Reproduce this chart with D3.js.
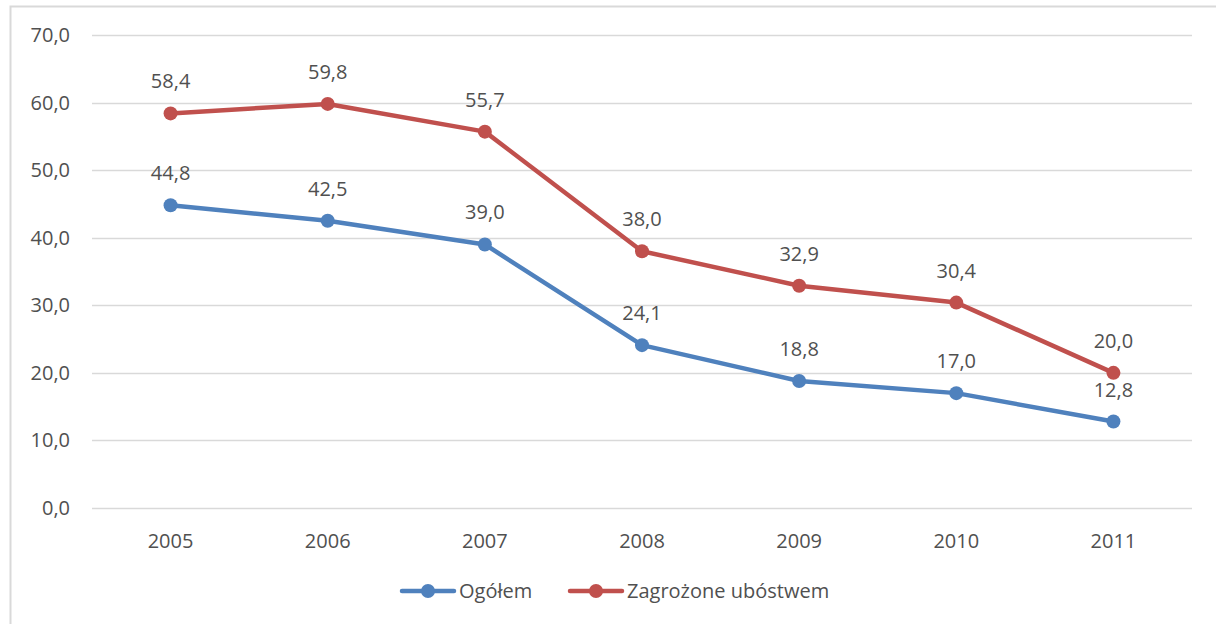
<!DOCTYPE html>
<html>
<head>
<meta charset="utf-8">
<script src="https://cdn.jsdelivr.net/npm/d3@7"></script>
<style>
  body { margin: 0; background: #fff; }
  text { font-family: "Open Sans", sans-serif; fill: #505050; }
</style>
</head>
<body>
<div id="chart"></div>
<script>
var width = 1216,
    height = 624;

var years = ['2005', '2006', '2007', '2008', '2009', '2010', '2011'];
var ogolem = [44.8, 42.5, 39.0, 24.1, 18.8, 17.0, 12.8];
var zagrozone = [58.4, 59.8, 55.7, 38.0, 32.9, 30.4, 20.0];
var yTicks = [0, 10, 20, 30, 40, 50, 60, 70];
var seriesNames = ['Ogółem', 'Zagrożone ubóstwem'];
var colours = ['#4f81bd', '#c0504d'];

var fmt = function(v) { return v.toFixed(1).replace('.', ','); };

var svg = d3.select('#chart').append('svg')
    .attr('width', width)
    .attr('height', height);

// chart area border
svg.append('rect')
    .attr('x', 10.5).attr('y', 6.5)
    .attr('width', 1230).attr('height', 640)
    .attr('fill', 'none')
    .attr('stroke', '#d9d9d9')
    .attr('stroke-width', 2);

var x = d3.scaleBand()
    .domain(years)
    .range([92, 1192]);

var y = d3.scaleLinear()
    .domain([0, 70])
    .range([508, 35]);

// grid
svg.append('g').selectAll('line')
  .data(yTicks)
  .enter().append('line')
    .attr('x1', 92).attr('x2', 1192)
    .attr('y1', function(d) { return Math.round(y(d)) + 0.5; })
    .attr('y2', function(d) { return Math.round(y(d)) + 0.5; })
    .attr('stroke', '#d9d9d9')
    .attr('stroke-width', 1.5);

// y labels
svg.append('g').selectAll('text')
  .data(yTicks)
  .enter().append('text')
    .attr('x', 70)
    .attr('y', function(d) { return y(d); })
    .attr('dy', '0.35em')
    .attr('text-anchor', 'end')
    .style('font-size', '20px')
    .text(fmt);

// x labels
svg.append('g').selectAll('text')
  .data(years)
  .enter().append('text')
    .attr('x', function(d) { return x(d) + x.bandwidth() / 2; })
    .attr('y', 541)
    .attr('dy', '0.35em')
    .attr('text-anchor', 'middle')
    .style('font-size', '20px')
    .text(function(d) { return d; });

var line = d3.line()
    .x(function(d, i) { return x(years[i]) + x.bandwidth() / 2; })
    .y(function(d) { return y(d); });

[ogolem, zagrozone].forEach(function(values, s) {
  var g = svg.append('g');

  g.append('path')
      .datum(values)
      .attr('d', line)
      .attr('fill', 'none')
      .attr('stroke', colours[s])
      .attr('stroke-width', 4.5)
      .attr('stroke-linejoin', 'round');

  g.selectAll('circle')
    .data(values)
    .enter().append('circle')
      .attr('cx', function(d, i) { return x(years[i]) + x.bandwidth() / 2; })
      .attr('cy', function(d) { return y(d); })
      .attr('r', 7)
      .attr('fill', colours[s]);

  g.selectAll('text')
    .data(values)
    .enter().append('text')
      .attr('x', function(d, i) { return x(years[i]) + x.bandwidth() / 2; })
      .attr('y', function(d) { return y(d) - 32; })
      .attr('dy', '0.35em')
      .attr('text-anchor', 'middle')
      .style('font-size', '20px')
      .text(fmt);
});

// legend
var legendX = [400, 568];
seriesNames.forEach(function(name, s) {
  var lg = svg.append('g')
      .attr('transform', 'translate(' + legendX[s] + ',591)');
  lg.append('line')
      .attr('x1', 2).attr('x2', 54)
      .attr('stroke', colours[s])
      .attr('stroke-width', 4.5)
      .attr('stroke-linecap', 'round');
  lg.append('circle')
      .attr('cx', 28).attr('r', 7)
      .attr('fill', colours[s]);
  lg.append('text')
      .attr('x', 59)
      .attr('dy', '0.35em')
      .style('font-size', '20px')
      .text(name);
});
</script>
</body>
</html>
